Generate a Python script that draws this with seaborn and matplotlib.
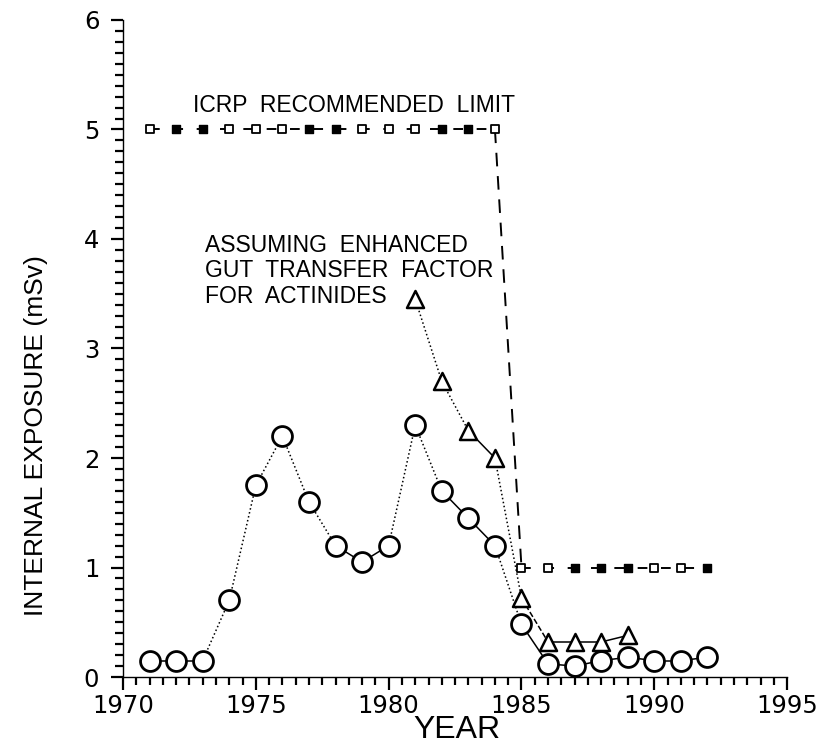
import matplotlib
matplotlib.use("Agg")
import matplotlib.pyplot as plt
import seaborn as sns
import pandas as pd
from matplotlib.ticker import MultipleLocator

# ---------------- data ----------------
years_base = [1971, 1972, 1973, 1974, 1975, 1976, 1977, 1978, 1979, 1980, 1981,
              1982, 1983, 1984, 1985, 1986, 1987, 1988, 1989, 1990, 1991, 1992]
exposure_base = [0.15, 0.15, 0.15, 0.70, 1.75, 2.20, 1.60, 1.20, 1.05, 1.20, 2.30,
                 1.70, 1.45, 1.20, 0.48, 0.12, 0.10, 0.15, 0.18, 0.15, 0.15, 0.18]

years_gut = [1981, 1982, 1983, 1984, 1985, 1986, 1987, 1988, 1989]
exposure_gut = [3.45, 2.70, 2.25, 2.00, 0.72, 0.32, 0.32, 0.32, 0.38]

years_limit = [1971, 1972, 1973, 1974, 1975, 1976, 1977, 1978, 1979, 1980, 1981,
               1982, 1983, 1984, 1985, 1986, 1987, 1988, 1989, 1990, 1991, 1992]
limit_values = [5, 5, 5, 5, 5, 5, 5, 5, 5, 5, 5, 5, 5, 5,
                1, 1, 1, 1, 1, 1, 1, 1]

x_ticks = [1970, 1975, 1980, 1985, 1990, 1995]
y_ticks = [0, 1, 2, 3, 4, 5, 6]

label_limit = "ICRP  RECOMMENDED  LIMIT"
label_gut = ["ASSUMING  ENHANCED", "GUT  TRANSFER  FACTOR", "FOR  ACTINIDES"]

# ---------------- styling (not data) ----------------
base_seg_style = ['-', '-', ':', ':', ':', ':', ':', '-', '-', ':', ':',
                  '-', '-', ':', '-', '-', '-', '-', '-', '-', '-']
gut_seg_style = [':', ':', '-', ':', '--', '-', '-', '-']
limit_filled = [False, True, True, False, False, False, True, True, False, False, False,
                True, True, False, False, False, True, True, True, False, False, True]

sns.set_theme(style="ticks")
plt.rcParams['font.family'] = ['DejaVu Sans']
LAB = ['Liberation Sans', 'DejaVu Sans']

fig = plt.figure(figsize=(8.21, 7.54), dpi=100)
ax = fig.add_axes([0.1498, 0.1021, 0.809, 0.8714])

df_base = pd.DataFrame({"year": years_base, "val": exposure_base})
df_gut = pd.DataFrame({"year": years_gut, "val": exposure_gut})
df_lim = pd.DataFrame({"year": years_limit, "val": limit_values, "filled": limit_filled})

# base series segments
for i, ls in enumerate(base_seg_style):
    seg = df_base.iloc[i:i + 2]
    sns.lineplot(data=seg, x="year", y="val", ax=ax, color="black",
                 linestyle=ls, linewidth=1.1, zorder=2, legend=False)
sns.scatterplot(data=df_base, x="year", y="val", ax=ax, marker="o", s=205,
                facecolor="white", edgecolor="black", linewidth=2.0, zorder=4, legend=False)

# gut-transfer series
for i, ls in enumerate(gut_seg_style):
    seg = df_gut.iloc[i:i + 2]
    sns.lineplot(data=seg, x="year", y="val", ax=ax, color="black",
                 linestyle=ls, linewidth=1.1, zorder=2, legend=False)
sns.scatterplot(data=df_gut, x="year", y="val", ax=ax, marker="^", s=150,
                facecolor="white", edgecolor="black", linewidth=1.8, zorder=4, legend=False)

# ICRP limit
hi = df_lim[df_lim.val == 5]
lo = df_lim[df_lim.val == 1]
sns.lineplot(data=hi, x="year", y="val", ax=ax, color="black",
             linestyle=(0, (5, 7)), linewidth=1.4, zorder=2, legend=False)
sns.lineplot(data=lo, x="year", y="val", ax=ax, color="black",
             linestyle=(0, (5, 7)), linewidth=1.4, zorder=2, legend=False)
drop = df_lim.iloc[13:15]
sns.lineplot(data=drop, x="year", y="val", ax=ax, color="black",
             linestyle=(0, (7, 5)), linewidth=1.4, zorder=2, legend=False)
sns.scatterplot(data=df_lim[df_lim.filled], x="year", y="val", ax=ax, marker="s", s=28,
                color="black", edgecolor="black", linewidth=1.0, zorder=4, legend=False)
sns.scatterplot(data=df_lim[~df_lim.filled], x="year", y="val", ax=ax, marker="s", s=28,
                facecolor="white", edgecolor="black", linewidth=1.3, zorder=4, legend=False)

# annotations
ax.text(1972.64, 5.16, label_limit, fontsize=16.5, ha="left", va="baseline",
        color="black", family=LAB)
for k, line in enumerate(label_gut):
    ax.text(1973.1, 3.88 - 0.23 * k, line, fontsize=16.5, ha="left", va="baseline",
            color="black", family=LAB)

# axes
ax.set_xlim(1970, 1995)
ax.set_ylim(0, 6)
ax.set_xticks(x_ticks)
ax.set_yticks(y_ticks)
ax.xaxis.set_minor_locator(MultipleLocator(0.5))
ax.yaxis.set_minor_locator(MultipleLocator(0.1))
ax.tick_params(axis="both", which="major", direction="out", length=9, width=1.6,
               labelsize=17.5, color="black", labelcolor="black", pad=3)
ax.tick_params(axis="both", which="minor", direction="out", length=6, width=1.6,
               color="black")
ax.tick_params(axis="y", which="major", pad=8)
for s in ["top", "right"]:
    ax.spines[s].set_visible(False)
for s in ["left", "bottom"]:
    ax.spines[s].set_linewidth(1.0)
    ax.spines[s].set_color("black")

ax.set_xlabel("YEAR", fontsize=23, family=LAB, color="black")
ax.set_ylabel("INTERNAL EXPOSURE (mSv)", fontsize=19, family=LAB, color="black")
ax.xaxis.set_label_coords(0.503, -0.058)
ax.yaxis.set_label_coords(-0.113, 0.368)

fig.savefig("out.png", dpi=100)
